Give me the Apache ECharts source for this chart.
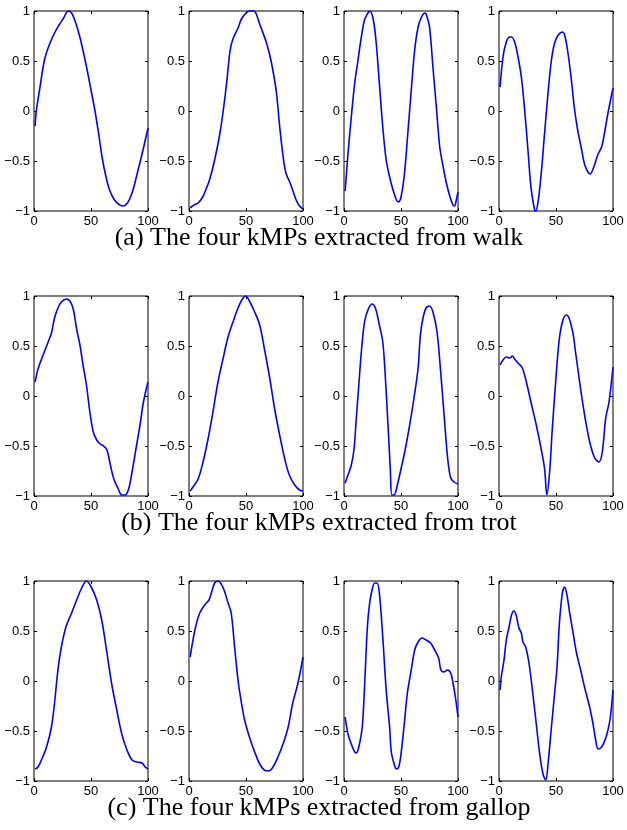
<!DOCTYPE html>
<html>
<head>
<meta charset="utf-8">
<script src="https://cdn.jsdelivr.net/npm/echarts@6/dist/echarts.min.js"></script>
<style>
  html, body { margin: 0; padding: 0; background: #fff; }
  #chart { width: 627px; height: 830px; }
</style>
</head>
<body>
<div id="chart"></div>
<script>
// Captions for the three gaits
const captions = [
  '(a) The four kMPs extracted from walk',
  '(b) The four kMPs extracted from trot',
  '(c) The four kMPs extracted from gallop'
];

// Axis ticks
const xTicks = [0, 50, 100];
const yTicks = [-1, -0.5, 0, 0.5, 1];

// kMP curves, [phase, value]
const walk1 = [[1,-0.15],[2,0.0],[5,0.22],[9,0.5],[13,0.65],[18,0.78],[22,0.86],[26,0.93],[30,1.0],[33,0.98],[36,0.9],[40,0.75],[45,0.5],[50,0.21],[53.5,0.0],[57,-0.25],[60,-0.48],[63,-0.65],[66,-0.78],[70,-0.88],[74,-0.93],[78,-0.95],[82,-0.92],[86,-0.82],[90,-0.65],[95,-0.42],[100,-0.17]];
const walk2 = [[1,-0.97],[3,-0.95],[6,-0.93],[8,-0.92],[12,-0.86],[15,-0.78],[18,-0.69],[22.5,-0.49],[27,-0.23],[30,0.0],[33,0.28],[36,0.6],[38.5,0.72],[43,0.83],[46,0.92],[50,0.98],[53,1.0],[57,1.0],[59,0.97],[62,0.87],[68,0.68],[72,0.5],[76.5,0.2],[79.5,-0.15],[82.5,-0.45],[85,-0.62],[88,-0.7],[90,-0.76],[94,-0.89],[97,-0.95],[100,-0.98]];
const walk3 = [[1,-0.8],[3.5,-0.43],[6.4,-0.06],[9.4,0.28],[12.3,0.51],[15.2,0.74],[18,0.91],[21,0.98],[22.5,1.0],[25.4,0.93],[28,0.71],[31,0.28],[34,-0.16],[37,-0.49],[40,-0.66],[43,-0.79],[46,-0.89],[47.5,-0.91],[50,-0.86],[53,-0.63],[56,-0.22],[59,0.21],[62,0.61],[65,0.84],[68,0.94],[71,0.98],[72,0.97],[75,0.84],[78,0.44],[81,0.04],[84,-0.36],[87,-0.56],[90,-0.73],[93,-0.86],[95.6,-0.94],[97,-0.95],[98.5,-0.89],[100,-0.81]];
const walk4 = [[1,0.24],[3.5,0.54],[6.4,0.69],[9.4,0.74],[11,0.74],[14,0.68],[16.7,0.54],[19.6,0.34],[22.5,0.01],[25.4,-0.39],[28,-0.76],[30.7,-0.96],[32,-1.0],[34,-0.93],[37,-0.63],[40,-0.22],[43,0.18],[46,0.51],[48.8,0.68],[52,0.76],[55.6,0.79],[57.6,0.76],[60.5,0.58],[63.5,0.31],[66,0.04],[69,-0.19],[72,-0.36],[75,-0.53],[78,-0.61],[80,-0.63],[82.5,-0.58],[87,-0.43],[90,-0.36],[93,-0.19],[95.6,-0.02],[100,0.23]];

const trot1 = [[1,0.14],[3.5,0.27],[8,0.41],[12.4,0.54],[15.3,0.63],[18,0.78],[21,0.88],[24,0.94],[28.5,0.97],[31.5,0.95],[34.4,0.87],[37.4,0.67],[40.3,0.51],[43,0.31],[46,0.11],[49,-0.16],[52,-0.36],[55,-0.44],[58,-0.48],[61,-0.5],[64,-0.54],[67,-0.69],[70,-0.83],[74,-0.93],[77,-0.99],[80,-0.99],[83,-0.93],[86,-0.76],[90,-0.49],[93,-0.29],[96,-0.06],[100,0.14]];
const trot2 = [[1,-0.95],[3.5,-0.91],[8,-0.83],[12.3,-0.66],[16.7,-0.43],[21,-0.16],[25.4,0.14],[30,0.38],[34,0.58],[38.6,0.74],[43,0.88],[46.8,0.97],[49.7,1.0],[53,0.95],[57.6,0.84],[62,0.71],[66,0.48],[70.8,0.18],[75,-0.12],[79.5,-0.39],[84,-0.63],[88,-0.79],[92.7,-0.89],[97,-0.94],[100,-0.95]];
const trot3 = [[1,-0.87],[3.5,-0.79],[6.4,-0.69],[8.8,-0.53],[10.8,-0.22],[13,0.11],[15.2,0.44],[18,0.74],[21,0.86],[24.6,0.92],[27.5,0.88],[31,0.71],[34,0.54],[36,0.24],[38.6,-0.29],[40.6,-0.73],[42,-0.99],[43.9,-0.99],[46.8,-0.89],[50,-0.73],[53.8,-0.53],[57.6,-0.29],[61.4,-0.02],[65,0.28],[67,0.61],[69.3,0.78],[72,0.88],[75,0.9],[78,0.84],[81.6,0.64],[84.8,0.24],[88,-0.22],[91,-0.63],[93.6,-0.82],[96.5,-0.86],[100,-0.88]];
const trot4 = [[1,0.31],[3.5,0.36],[6.4,0.39],[9.4,0.38],[11.7,0.4],[13.7,0.37],[16.7,0.33],[20.5,0.28],[24,0.14],[28,-0.06],[32.7,-0.29],[37,-0.53],[40,-0.73],[42,-0.99],[44.4,-0.76],[46.8,-0.32],[49.7,0.14],[52.6,0.54],[55.6,0.74],[59,0.81],[61.4,0.78],[65,0.62],[67,0.45],[70,0.2],[72.5,0.0],[76,-0.25],[80,-0.48],[84,-0.62],[87.7,-0.66],[90.6,-0.56],[93.6,-0.22],[96.5,-0.06],[100,0.29]];

const gallop1 = [[1,-0.88],[3.5,-0.86],[6.5,-0.79],[11,-0.66],[15.3,-0.46],[18,-0.22],[21,0.11],[24,0.34],[28,0.54],[33,0.68],[37.4,0.81],[41.8,0.93],[46,1.0],[50.6,0.93],[55,0.81],[59.4,0.61],[64,0.28],[68,-0.02],[72.6,-0.29],[77,-0.53],[81.5,-0.69],[86,-0.79],[90,-0.81],[94.7,-0.82],[97.6,-0.86],[100,-0.88]];
const gallop2 = [[1,0.24],[3.5,0.41],[6,0.55],[9.4,0.68],[13.7,0.76],[17.5,0.81],[19.6,0.88],[22.5,0.98],[25.4,1.0],[30,0.93],[34,0.79],[37,0.68],[40,0.34],[43,0.01],[46,-0.22],[48.8,-0.39],[53,-0.56],[57.6,-0.71],[62,-0.83],[66,-0.89],[70,-0.9],[73.7,-0.86],[78,-0.76],[82.5,-0.63],[87,-0.46],[91,-0.22],[95.6,-0.02],[100,0.24]];
const gallop3 = [[1,-0.36],[3.5,-0.53],[6.4,-0.63],[9.4,-0.71],[10.8,-0.72],[13,-0.66],[16,-0.46],[18,-0.06],[20.5,0.54],[22.5,0.78],[24.6,0.91],[27,0.98],[29,0.98],[31,0.88],[34,0.44],[37,-0.09],[40,-0.46],[41.5,-0.71],[44,-0.83],[46,-0.88],[48,-0.86],[50,-0.73],[52.6,-0.46],[55.6,-0.12],[59,0.11],[62,0.31],[65,0.39],[68.4,0.43],[72,0.41],[76,0.38],[79.5,0.31],[83,0.23],[85,0.11],[87.7,0.09],[90.6,0.11],[93.6,0.08],[95.6,-0.02],[97.7,-0.16],[100,-0.36]];
const gallop4 = [[1,-0.09],[2,0.04],[4.4,0.21],[6.4,0.41],[8.8,0.54],[11,0.66],[13,0.7],[15,0.66],[17.5,0.53],[19.6,0.48],[21,0.39],[23.4,0.34],[26.3,0.18],[30,-0.16],[33,-0.46],[35.7,-0.73],[38.6,-0.93],[41,-0.99],[43,-0.83],[46,-0.46],[48.8,-0.12],[50.9,0.14],[53,0.58],[55.6,0.88],[57.6,0.94],[59.6,0.86],[62,0.68],[65,0.48],[68,0.28],[71.6,0.11],[75,-0.06],[79.5,-0.26],[82.5,-0.43],[84.8,-0.59],[87,-0.68],[90,-0.66],[93,-0.59],[95.6,-0.49],[97.7,-0.36],[100,-0.09]];

const rows = [
  [walk1, walk2, walk3, walk4],
  [trot1, trot2, trot3, trot4],
  [gallop1, gallop2, gallop3, gallop4]
];

// Panel geometry
const panelLeft = [34, 189, 344, 499];
const panelTop = [11, 296, 581];
const panelW = 114;
const panelH = 200;
const captionY = [238, 523, 808];

const tickFont = { fontFamily: 'Liberation Sans', fontSize: 13, color: '#000' };
const fmt = v => (v < 0 ? '\u2212' + Math.abs(v) : String(v));

const grid = [], xAxis = [], yAxis = [], series = [];
rows.forEach((row, r) => {
  row.forEach((data, c) => {
    const g = grid.length;
    grid.push({
      left: panelLeft[c], top: panelTop[r], width: panelW, height: panelH,
      show: true, borderColor: '#000', borderWidth: 1, backgroundColor: '#fff'
    });
    const common = {
      gridIndex: g, type: 'value', splitLine: { show: false },
      axisLine: { show: false, onZero: false },
      axisTick: { show: true, inside: true, length: 3, lineStyle: { color: '#000', width: 1 } }
    };
    // bottom / left axes carry labels
    xAxis.push(Object.assign({}, common, {
      position: 'bottom', min: xTicks[0], max: xTicks[xTicks.length - 1], interval: 50,
      axisLabel: Object.assign({ margin: 4, formatter: fmt }, tickFont)
    }));
    yAxis.push(Object.assign({}, common, {
      position: 'left', min: yTicks[0], max: yTicks[yTicks.length - 1], interval: 0.5,
      axisLabel: Object.assign({ margin: 4, formatter: fmt }, tickFont)
    }));
    // mirrored top / right ticks
    xAxis.push(Object.assign({}, common, {
      position: 'top', min: xTicks[0], max: xTicks[xTicks.length - 1], interval: 50,
      axisLabel: { show: false }
    }));
    yAxis.push(Object.assign({}, common, {
      position: 'right', min: yTicks[0], max: yTicks[yTicks.length - 1], interval: 0.5,
      axisLabel: { show: false }
    }));
    series.push({
      type: 'line', xAxisIndex: 2 * g, yAxisIndex: 2 * g, data: data,
      smooth: 0.35, symbol: 'none', clip: false,
      lineStyle: { color: '#0000ff', width: 1.6 }
    });
  });
});

const graphic = captions.map((t, i) => ({
  type: 'text', x: 319, y: captionY[i],
  style: {
    text: t, fill: '#000', align: 'center', verticalAlign: 'middle',
    font: '26px "Liberation Serif"'
  }
}));

const chart = echarts.init(document.getElementById('chart'), null, { renderer: 'canvas' });
chart.setOption({
  animation: false,
  backgroundColor: '#fff',
  grid, xAxis, yAxis, series, graphic
});
</script>
</body>
</html>
